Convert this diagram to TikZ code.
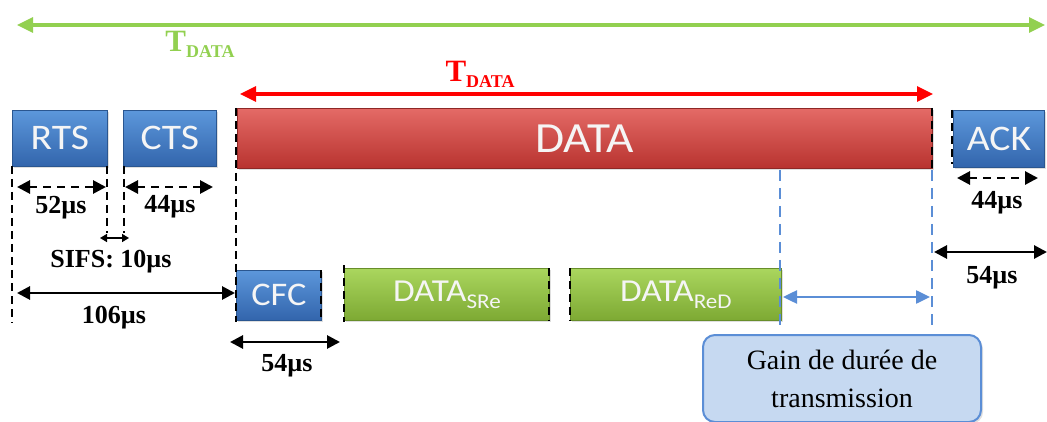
\documentclass[tikz,border=0pt]{standalone}
\usepackage{fontspec}
\setmainfont{Liberation Serif}
\newfontfamily\boxfont[FakeStretch=1.1]{Carlito}
\usetikzlibrary{arrows.meta,shadows}

\definecolor{blueT}{HTML}{5C97DB}
\definecolor{blueB}{HTML}{3265AC}
\definecolor{blueD}{HTML}{2A5690}
\definecolor{redT}{HTML}{E46A66}
\definecolor{redB}{HTML}{B8332F}
\definecolor{redD}{HTML}{8E2826}
\definecolor{greenT}{HTML}{AAD65E}
\definecolor{greenB}{HTML}{7DA933}
\definecolor{greenD}{HTML}{688E2A}
\definecolor{greenline}{HTML}{92D050}
\definecolor{lineblue}{HTML}{5B8ED6}
\definecolor{gainfill}{HTML}{C6D9F1}

\begin{document}
\begin{tikzpicture}[x=1pt,y=-1pt,
  frame/.style={anchor=north west, inner sep=0pt, text=white!96!black,
    line width=0.8pt, drop shadow={shadow xshift=1.5pt, shadow yshift=-1.5pt, opacity=0.25}},
  bluebox/.style={frame, top color=blueT, bottom color=blueB, draw=blueD,
    font=\boxfont\fontsize{36}{42}\selectfont},
  redbox/.style={frame, top color=redT, bottom color=redB, draw=redD,
    font=\boxfont\fontsize{43}{48}\selectfont},
  greenbox/.style={frame, top color=greenT, bottom color=greenB, draw=greenD,
    font=\boxfont\fontsize{32}{38}\selectfont},
  dim/.style={line width=2.8pt, {Triangle[length=13pt,width=13pt]}-{Triangle[length=13pt,width=13pt]}},
  dimdash/.style={dim, dash pattern=on 8pt off 6pt},
  vdash/.style={line width=2.5pt, dash pattern=on 8pt off 5pt},
  bdash/.style={line width=2.5pt, draw=lineblue, dash pattern=on 11pt off 7pt},
  lab/.style={font=\bfseries\fontsize{26}{30}\selectfont, inner sep=0pt},
  span/.style={line width=3.2pt, {Triangle[length=16pt,width=15pt]}-{Triangle[length=16pt,width=15pt]}},
  ttl/.style={font=\bfseries\fontsize{31}{34}\selectfont, inner sep=0pt}
]
\useasboundingbox (0,0) rectangle (1047,422);

% frames
\node[bluebox, minimum width=95pt, minimum height=56pt] (rts) at (12,110) {RTS};
\node[bluebox, minimum width=93pt, minimum height=56pt] (cts) at (123,110) {CTS};
\node[redbox, minimum width=695pt, minimum height=60pt] (data) at (237,108) {DATA};
\node[bluebox, minimum width=91pt, minimum height=57pt] (ack) at (953,110) {ACK};
\node[bluebox, minimum width=85pt, minimum height=50pt,
  font=\boxfont\fontsize{33}{38}\selectfont] (cfc) at (236,270) {CFC};
\node[greenbox, minimum width=205pt, minimum height=52pt] (sre) at (344,268)
  {DATA\raisebox{-7pt}{\fontsize{21}{22}\selectfont SRe}};
\node[greenbox, minimum width=211pt, minimum height=52pt] (red) at (570,268)
  {DATA\raisebox{-7pt}{\fontsize{21}{22}\selectfont ReD}};

% gain box
\node[anchor=north west, minimum width=278pt, minimum height=87pt, rounded corners=12pt,
  fill=gainfill, draw=lineblue, line width=2pt, align=center,
  font=\fontsize{28}{38}\selectfont, inner sep=0pt,
  drop shadow={shadow xshift=2pt, shadow yshift=-2pt, opacity=0.25}]
  (gain) at (702,334) {Gain de durée de\\transmission};

% total spans
\coordinate (g1) at (17,25);
\coordinate (g2) at (1045,25);
\draw[span, greenline] (g1) -- (g2);
\node[ttl, text=greenline] (tg) at (200,44) {T\raisebox{-6pt}{\fontsize{18}{18}\selectfont DATA}};
\coordinate (r1) at (240,94);
\coordinate (r2) at (933,94);
\draw[span, red] (r1) -- (r2);
\node[ttl, text=red] (tr) at (480,74) {T\raisebox{-6pt}{\fontsize{18}{18}\selectfont DATA}};

% vertical guides
\draw[vdash] (12,166) -- (12,323);
\draw[vdash] (107,166) -- (107,233);
\draw[vdash] (124,166) -- (124,233);
\draw[vdash] (236,108) -- (236,322);
\draw[vdash] (321,270) -- (321,321);
\draw[vdash] (344,265) -- (344,322);
\draw[vdash] (549,268) -- (549,321);
\draw[vdash] (570,268) -- (570,321);
\draw[vdash] (932,108) -- (932,168);
\draw[vdash] (952,110) -- (952,164);
\draw[bdash] (780,170) -- (780,328);
\draw[bdash] (932,170) -- (932,328);

% durations
\coordinate (a1) at (17,187);  \coordinate (a2) at (106,187);
\draw[dimdash] (a1) -- (a2);
\node[lab] (l52) at (61,208) {52µs};
\coordinate (b1) at (125,187); \coordinate (b2) at (213,187);
\draw[dimdash] (b1) -- (b2);
\node[lab] (l44) at (170,207) {44µs};
\coordinate (s1) at (100,238); \coordinate (s2) at (129,238);
\draw[line width=1.5pt, {Triangle[length=7pt,width=8pt]}-{Triangle[length=7pt,width=8pt]}] (s1) -- (s2);
\node[lab] (lsifs) at (111,262) {SIFS: 10µs};
\coordinate (c1) at (17,293);  \coordinate (c2) at (235,293);
\draw[dim] (c1) -- (c2);
\node[lab] (l106) at (114,318) {106µs};
\coordinate (d1) at (230,342); \coordinate (d2) at (340,342);
\draw[dim] (d1) -- (d2);
\node[lab] (l54a) at (287,366) {54µs};
\coordinate (e1) at (957,178); \coordinate (e2) at (1038,178);
\draw[dimdash] (e1) -- (e2);
\node[lab] (l44b) at (997,203) {44µs};
\coordinate (f1) at (934,252); \coordinate (f2) at (1047,252);
\draw[dim] (f1) -- (f2);
\node[lab] (l54b) at (992,278) {54µs};
\coordinate (h1) at (783,297); \coordinate (h2) at (930,297);
\draw[line width=2.5pt, lineblue, {Triangle[length=14pt,width=13pt]}-{Triangle[length=14pt,width=13pt]}] (h1) -- (h2);
\end{tikzpicture}
\end{document}
